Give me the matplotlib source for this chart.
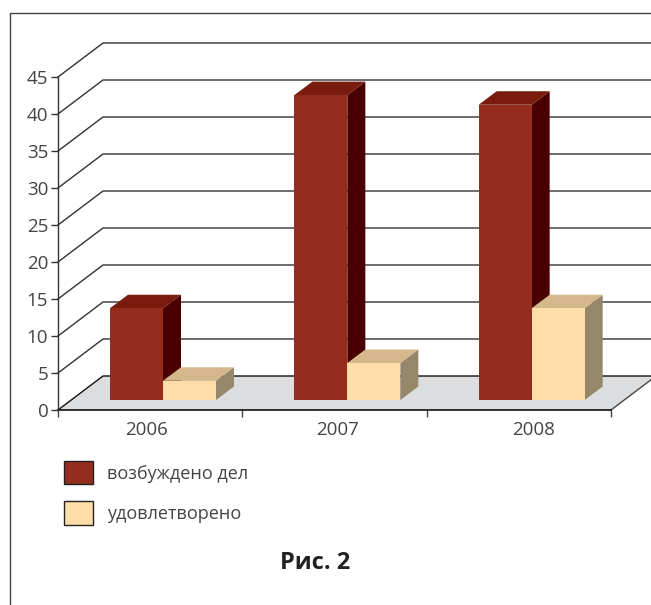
import matplotlib
matplotlib.use("Agg")
import matplotlib.pyplot as plt
from matplotlib.lines import Line2D
from matplotlib.patches import Polygon, Patch

plt.rcParams['font.family'] = ['Open Sans', 'DejaVu Sans']

categories = ['2006', '2007', '2008']
cases_opened = [12.4, 41.2, 39.9]
cases_granted = [2.6, 5.0, 12.4]
series_names = ['возбуждено дел', 'удовлетворено']
y_ticks = list(range(0, 50, 5))
caption = 'Рис. 2'

W, H = 651, 605
fig = plt.figure(figsize=(W / 100, H / 100), dpi=100, facecolor='white')
L, R, T, B = 58, 611, 77, 410
ax = fig.add_axes([L / W, 1 - B / H, (R - L) / W, (B - T) / H])
ax.set_xlim(0, 3)
ax.set_ylim(0, 45)
ax.patch.set_visible(False)
for s in ax.spines.values():
    s.set_visible(False)

px = 3 / (R - L)      # data units per pixel, x
py = 45 / (B - T)     # data units per pixel, y
WALL_DX, WALL_DY = 45 * px, 34 * py
BAR_DX, BAR_DY = 18 * px, 13.5 * py
BAR_W = 53 * px
BAR_BASE = 10 * py
GROUP_OFF = 52 * px
LINE = '#333333'

# floor
ax.add_patch(Polygon([(0, 0), (3, 0), (3 + WALL_DX, WALL_DY), (WALL_DX, WALL_DY)],
                     closed=True, fc='#DBDDDF', ec='none', zorder=1, clip_on=False))
# gridlines on walls
for v in y_ticks:
    col = '#111111' if v == 0 else LINE
    ax.plot([0, WALL_DX, 3 + WALL_DX], [v, v + WALL_DY, v + WALL_DY],
            color=col, lw=1.0, zorder=2, clip_on=False, solid_joinstyle='miter')
ax.plot([3, 3 + WALL_DX], [0, WALL_DY], color='#444444', lw=1.0, zorder=2, clip_on=False)
ax.plot([0, 3], [0, 0], color='#111111', lw=1.2, zorder=2, clip_on=False)
ax.plot([0, 0], [0, 45], color=LINE, lw=1.0, zorder=2, clip_on=False)


def box(x, v, front, top, side, z):
    y0, y1 = BAR_BASE, BAR_BASE + v
    x1 = x + BAR_W
    ax.add_patch(Polygon([(x1, y0), (x1 + BAR_DX, y0 + BAR_DY), (x1 + BAR_DX, y1 + BAR_DY), (x1, y1)],
                         closed=True, fc=side, ec='none', zorder=z, clip_on=False))
    ax.add_patch(Polygon([(x, y1), (x1, y1), (x1 + BAR_DX, y1 + BAR_DY), (x + BAR_DX, y1 + BAR_DY)],
                         closed=True, fc=top, ec='none', zorder=z, clip_on=False))
    ax.bar(x, v, BAR_W, bottom=y0, align='edge', color=front, zorder=z + 0.1, clip_on=False)


for i in range(len(categories)):
    x = i + GROUP_OFF + i * 0.0
    box(x, cases_opened[i], '#952D1E', '#7A1C0D', '#4A0000', 3 + i * 2)
    box(x + BAR_W, cases_granted[i], '#FEDDA8', '#D4B88B', '#96876A', 4 + i * 2)

# ticks
ax.set_yticks(y_ticks)
ax.tick_params(axis='y', length=5, width=1, color=LINE, labelcolor='#444444', labelsize=13.5, pad=2)
ax.set_xticks([0, 1, 2, 3])
ax.set_xticklabels([])
ax.tick_params(axis='x', which='major', length=5, width=1, color='#444444')
ax.set_xticks([(147 - L) * px, (338 - L) * px, (534 - L) * px], minor=True)
ax.set_xticklabels(categories, minor=True)
ax.tick_params(axis='x', which='minor', length=0, labelcolor='#444444', labelsize=13.5, pad=8)

# frame
fig.add_artist(Line2D([9.5 / W, 9.5 / W, 1], [0, 1 - 13 / H, 1 - 13 / H], color='#444444', lw=1.0))

# legend
handles = [Patch(fc='#952D1E', ec='#222222', lw=1.0), Patch(fc='#FEDDA8', ec='#222222', lw=1.0)]
fig.legend(handles, series_names, loc='upper left', bbox_to_anchor=(64 / W, 1 - 461 / H),
           bbox_transform=fig.transFigure, frameon=False, fontsize=13, labelcolor='#444444',
           borderpad=0, borderaxespad=0, handlelength=1.6, handleheight=1.6,
           handletextpad=0.78, labelspacing=0.95)

fig.text(315 / W, 1 - 563 / H, caption, ha='center', va='center', fontsize=17,
         fontweight='bold', color='#222222')

fig.savefig('out.png', dpi=100, facecolor='white')
